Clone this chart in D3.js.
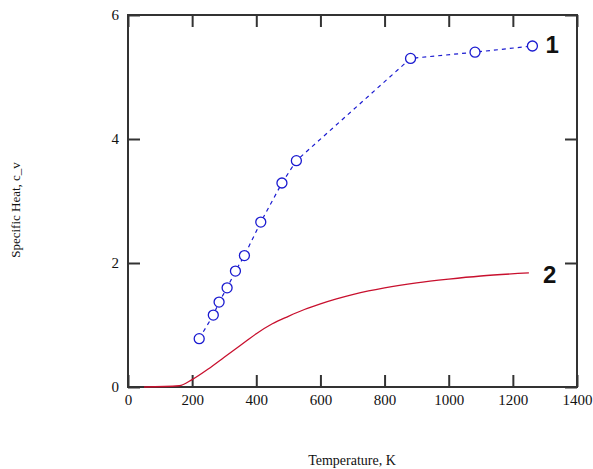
<!DOCTYPE html>
<html lang="en">
<head>
<meta charset="UTF-8">
<title>Specific Heat vs Temperature</title>
<script src="https://d3js.org/d3.v7.min.js"></script>
<style>
    body { margin: 0; background: #fff; }
    svg { display: block; }
    .tick text { font-family: "Liberation Serif", "DejaVu Serif", serif; font-size: 15px; fill: #111; }
    .title { font-family: "Liberation Serif", serif; fill: #111; }
    .curve-label { font-family: "Liberation Sans", Arial, sans-serif; font-size: 24px; font-weight: bold; fill: #111; }
</style>
</head>
<body>
<svg width="593" height="469"></svg>
<script>
// series 1: measured points (circles, dashed)
const t1  = [222, 266, 284, 309, 335, 363, 414, 480, 525, 881, 1082, 1261];
const cv1 = [0.78, 1.16, 1.37, 1.60, 1.87, 2.12, 2.66, 3.29, 3.65, 5.30, 5.40, 5.50];

// series 2: model curve
const t2  = [50, 160, 200, 250, 300, 350, 400, 450, 500, 550, 600, 650, 700, 750, 800, 900, 1000, 1100, 1250];
const cv2 = [0, 0.02, 0.12, 0.29, 0.48, 0.67, 0.86, 1.02, 1.14, 1.25, 1.34, 1.42, 1.49, 1.55, 1.60, 1.68, 1.74, 1.79, 1.84];

const xTicks = [0, 200, 400, 600, 800, 1000, 1200, 1400];
const yTicks = [0, 2, 4, 6];

const svg = d3.select('svg');
const plotLeft = 128, plotRight = 577, plotTop = 15, plotBottom = 387;

const x = d3.scaleLinear().domain([0, 1400]).range([plotLeft, plotRight]);
const y = d3.scaleLinear().domain([0, 6]).range([plotBottom, plotTop]);

const axisColor = '#333';

// frame
svg.append('rect')
    .attr('x', plotLeft).attr('y', plotTop)
    .attr('width', plotRight - plotLeft).attr('height', plotBottom - plotTop)
    .attr('fill', 'none').attr('stroke', axisColor).attr('stroke-width', 2);

// bottom axis with labels, inward ticks
const gx = svg.append('g').attr('transform', `translate(0,${plotBottom})`)
    .call(d3.axisBottom(x).tickValues(xTicks).tickSize(-12).tickPadding(7).tickFormat(d3.format('d')));
// left axis
const gy = svg.append('g').attr('transform', `translate(${plotLeft},0)`)
    .call(d3.axisLeft(y).tickValues(yTicks).tickSize(-12).tickPadding(9).tickFormat(d3.format('d')));
// top and right mirrored ticks
const gt = svg.append('g').attr('transform', `translate(0,${plotTop})`)
    .call(d3.axisTop(x).tickValues(xTicks).tickSize(-12).tickFormat(''));
const gr = svg.append('g').attr('transform', `translate(${plotRight},0)`)
    .call(d3.axisRight(y).tickValues(yTicks).tickSize(-12).tickFormat(''));

[gx, gy, gt, gr].forEach(g => {
    g.select('.domain').remove();
    g.selectAll('.tick line').attr('stroke', axisColor).attr('stroke-width', 2);
});

// series 2 curve
const line2 = d3.line().x((d, i) => x(t2[i])).y(d => y(d)).curve(d3.curveMonotoneX);
svg.append('path')
    .datum(cv2)
    .attr('d', line2)
    .attr('fill', 'none')
    .attr('stroke', '#c8102e')
    .attr('stroke-width', 1.3);

// series 1 dashed + circles
const line1 = d3.line().x((d, i) => x(t1[i])).y(d => y(d));
svg.append('path')
    .datum(cv1)
    .attr('d', line1)
    .attr('fill', 'none')
    .attr('stroke', '#1a1ad0')
    .attr('stroke-width', 1.2)
    .attr('stroke-dasharray', '4,4');

svg.append('g').selectAll('circle')
    .data(cv1)
    .join('circle')
    .attr('cx', (d, i) => x(t1[i]))
    .attr('cy', d => y(d))
    .attr('r', 5)
    .attr('fill', 'white')
    .attr('stroke', '#1a1ad0')
    .attr('stroke-width', 1.3);

// curve labels
svg.append('text').attr('class', 'curve-label')
    .attr('x', x(1261) + 13).attr('y', y(5.50) + 7).text('1');
svg.append('text').attr('class', 'curve-label')
    .attr('x', x(1250) + 14).attr('y', y(1.84) + 10).text('2');

// axis titles
svg.append('text').attr('class', 'title')
    .attr('text-anchor', 'middle')
    .style('font-size', '14px')
    .attr('x', 352).attr('y', 465)
    .text('Temperature, K');
svg.append('text').attr('class', 'title')
    .attr('text-anchor', 'middle')
    .style('font-size', '13px')
    .attr('transform', 'translate(20,210) rotate(-90)')
    .text('Specific Heat, c_v');
</script>
</body>
</html>
